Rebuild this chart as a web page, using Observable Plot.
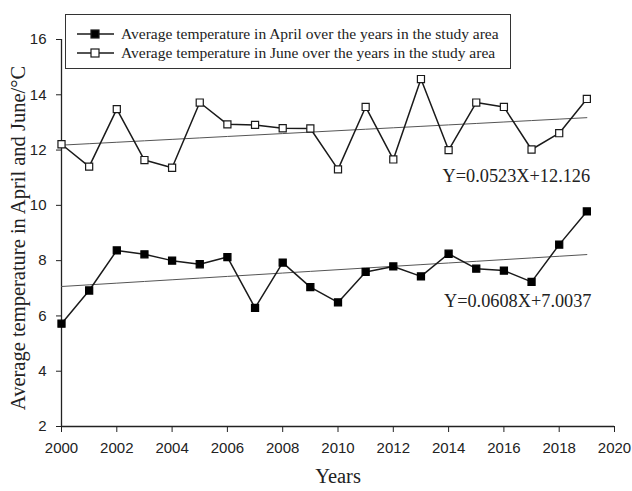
<!DOCTYPE html>
<html>
<head>
<meta charset="utf-8">
<script src="https://cdn.jsdelivr.net/npm/d3@7"></script>
<script src="https://cdn.jsdelivr.net/npm/@observablehq/plot@0.6"></script>
<style>
  body { margin: 0; background: #fff; }
  #wrap { position: relative; width: 632px; height: 491px; }
  #legend {
    position: absolute; left: 65px; top: 14px; width: 446px; height: 55px;
    border: 1.3px solid #333; background: #fff; box-sizing: border-box;
    font-family: "Liberation Serif", "Times New Roman", serif; font-size: 15.5px; color: #222;
  }
  .row { position: absolute; left: 11px; display: flex; align-items: center; height: 18px; }
  .row svg { margin-right: 7px; }
</style>
</head>
<body>
<div id="wrap"></div>
<script>
const years = [2000,2001,2002,2003,2004,2005,2006,2007,2008,2009,2010,2011,2012,2013,2014,2015,2016,2017,2018,2019];
const april = [5.72,6.92,8.37,8.23,8.0,7.87,8.13,6.29,7.93,7.04,6.49,7.59,7.79,7.43,8.25,7.71,7.64,7.23,8.58,9.78];
const june = [12.21,11.40,13.48,11.64,11.36,13.72,12.93,12.91,12.79,12.78,11.30,13.56,11.66,14.57,12.0,13.72,13.56,12.02,12.61,13.85];
const seriesNames = ["Average temperature in April over the years in the study area",
                     "Average temperature in June over the years in the study area"];
const slopes = [0.0608, 0.0523];
const intercepts = [7.0037, 12.126];
const equations = ["Y=0.0608X+7.0037", "Y=0.0523X+12.126"];
const xTicks = [2000,2002,2004,2006,2008,2010,2012,2014,2016,2018,2020];
const yTicks = [2,4,6,8,10,12,14,16];
const xLabel = "Years";
const yLabel = "Average temperature in April and June/°C";

const aprilData = years.map((y, i) => ({year: y, v: april[i]}));
const juneData = years.map((y, i) => ({year: y, v: june[i]}));
const trendA = years.map(y => ({year: y, v: intercepts[0] + slopes[0] * (y - 1999)}));
const trendJ = years.map(y => ({year: y, v: intercepts[1] + slopes[1] * (y - 1999)}));
const eqPos = [{year: 2016.5, v: 6.53, t: equations[0]}, {year: 2016.45, v: 11.05, t: equations[1]}];

const serif = "Liberation Serif, Times New Roman, serif";
const sans = "Liberation Sans, Arial, sans-serif";

const chart = Plot.plot({
  width: 632, height: 491,
  marginLeft: 61, marginRight: 18, marginTop: 39, marginBottom: 65,
  style: {fontFamily: sans, fontSize: "15px", color: "#222", background: "white"},
  x: {domain: [2000, 2020]},
  y: {domain: [2, 16]},
  marks: [
    Plot.axisX({ticks: xTicks, tickFormat: "d", tickSize: 6, tickPadding: 10, fontSize: 15, label: null, stroke: "#222"}),
    Plot.axisY({ticks: yTicks, tickSize: 5, tickPadding: 10, fontSize: 15, label: null, stroke: "#222"}),
    Plot.ruleX([2000], {stroke: "#222", strokeWidth: 1.3}),
    Plot.ruleY([2], {stroke: "#222", strokeWidth: 1.3}),
    Plot.line(trendJ, {x: "year", y: "v", stroke: "#555", strokeWidth: 1}),
    Plot.line(trendA, {x: "year", y: "v", stroke: "#555", strokeWidth: 1}),
    Plot.line(juneData, {x: "year", y: "v", stroke: "#1a1a1a", strokeWidth: 1.5}),
    Plot.line(aprilData, {x: "year", y: "v", stroke: "#1a1a1a", strokeWidth: 1.5}),
    Plot.dot(juneData, {x: "year", y: "v", symbol: "square", r: 4, fill: "white", stroke: "#1a1a1a", strokeWidth: 1.2}),
    Plot.dot(aprilData, {x: "year", y: "v", symbol: "square", r: 4, fill: "black", stroke: "black", strokeWidth: 1.2}),
    Plot.text(eqPos, {x: "year", y: "v", text: "t", fontFamily: serif, fontSize: 18.3, fill: "#222"}),
    Plot.text([xLabel], {frameAnchor: "bottom", dy: 56, fontFamily: serif, fontSize: 20.5, fill: "#222"}),
    Plot.text([yLabel], {frameAnchor: "left", textAnchor: "middle", rotate: -90, dx: -43, dy: 5, fontFamily: serif, fontSize: 20.5, fill: "#222"})
  ]
});
const wrap = document.getElementById("wrap");
wrap.appendChild(chart);

const legend = document.createElement("div");
legend.id = "legend";
const fills = ["black", "white"];
const tops = [10, 28.5];
seriesNames.forEach((name, i) => {
  const row = document.createElement("div");
  row.className = "row";
  row.style.top = tops[i] + "px";
  row.innerHTML = `<svg width="37" height="12"><line x1="0" x2="37" y1="6" y2="6" stroke="#1a1a1a" stroke-width="1.5"/><rect x="14" y="2" width="8" height="8" fill="${fills[i]}" stroke="#1a1a1a" stroke-width="1.2"/></svg><span>${name}</span>`;
  legend.appendChild(row);
});
wrap.appendChild(legend);
</script>
</body>
</html>
